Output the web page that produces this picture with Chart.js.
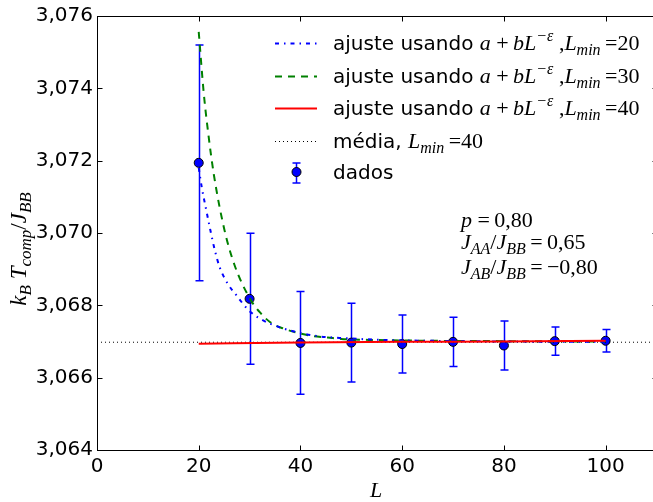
<!DOCTYPE html>
<html>
<head>
<meta charset="utf-8">
<script src="https://cdn.jsdelivr.net/npm/chart.js@4.4.0/dist/chart.umd.min.js"></script>
<style>
    html, body { margin: 0; padding: 0; background: #fff; overflow: hidden; }
    #wrap { width: 653px; height: 502px; overflow: hidden; }
    canvas { display: block; }
</style>
</head>
<body>
<div id="wrap"><canvas id="grafico" width="662" height="502"></canvas></div>
<script>
// dados (L, temperatura de compensação e barra de erro)
const tamanhos = [20, 30, 40, 50, 60, 70, 80, 90, 100];
const temperaturas = [3.07194, 3.06818, 3.06696, 3.06697, 3.06693, 3.06699, 3.06689, 3.06701, 3.06702];
const erros = [0.00326, 0.00181, 0.00142, 0.00109, 0.00080, 0.00068, 0.00068, 0.00039, 0.00031];

// curvas de ajuste a + bL^-eps
const ajuste20L = [20, 20.6, 21.5, 22.3, 23.1, 24.1, 25.7, 27.4, 29.7, 32.3, 36.2, 40.5, 43.8, 47.7, 55, 65, 80, 100];
const ajuste20T = [3.07180, 3.07126, 3.07062, 3.07007, 3.06956, 3.06906, 3.06860, 3.06828, 3.06788, 3.06761, 3.06738, 3.06722, 3.06714, 3.06710, 3.06705, 3.06702, 3.06700, 3.06699];
const ajuste30L = [20, 21, 22, 23, 25, 27, 30, 32, 34, 36.6, 39.2, 42, 45.4, 48, 55, 65, 80, 100];
const ajuste30T = [3.07556, 3.07385, 3.07261, 3.07159, 3.07012, 3.06913, 3.06820, 3.06781, 3.06754, 3.06736, 3.06725, 3.06716, 3.06711, 3.06707, 3.06704, 3.06702, 3.06701, 3.06700];
const ajuste40L = [20, 40, 60, 80, 100];
const ajuste40T = [3.06694, 3.06697, 3.06699, 3.06700, 3.06702];
const mediaL = [0, 110];
const mediaT = [3.06698, 3.06698];

const ticksX = [0, 20, 40, 60, 80, 100];
const ticksY = [3.064, 3.066, 3.068, 3.070, 3.072, 3.074, 3.076];

const SANS = '"DejaVu Sans"';
const TXT = '20px ' + SANS;
const MI = 'italic 22px "Liberation Serif"';
const MR = '22px "Liberation Serif"';
const MS = 'italic 16px "Liberation Serif"';
const FINO = '\u2009';

function pares(xs, ys) {
    return xs.map((x, i) => ({ x: x, y: ys[i] }));
}

// texto com fontes misturadas: [texto, fonte, deslocamento]
function larguraTexto(ctx, partes) {
    let w = 0;
    partes.forEach(p => { ctx.font = p[1]; w += ctx.measureText(p[0]).width; });
    return w;
}

function desenhaTexto(ctx, x, y, partes) {
    partes.forEach(p => {
        ctx.font = p[1];
        ctx.fillText(p[0], x, y + (p[2] || 0));
        x += ctx.measureText(p[0]).width;
    });
    return x;
}

function formula(lmin) {
    return [
        ['ajuste usando ', TXT],
        ['a ', MI], ['+' + FINO, MR], ['bL', MI], ['\u2212\u03b5', MS, -9],
        [' ,', MR], ['L', MI], ['min', MS, 5], [FINO + '=', MR], [lmin, MR]
    ];
}

const barrasErro = {
    id: 'barrasErro',
    beforeDatasetsDraw(chart) {
        const { ctx, scales: { x, y } } = chart;
        ctx.save();
        ctx.strokeStyle = '#0000ff';
        ctx.lineWidth = 1.5;
        tamanhos.forEach((L, i) => {
            const px = Math.round(x.getPixelForValue(L)) + 0.5;
            const topo = y.getPixelForValue(temperaturas[i] + erros[i]);
            const base = y.getPixelForValue(temperaturas[i] - erros[i]);
            ctx.beginPath();
            ctx.moveTo(px, topo); ctx.lineTo(px, base);
            ctx.moveTo(px - 4, topo); ctx.lineTo(px + 4, topo);
            ctx.moveTo(px - 4, base); ctx.lineTo(px + 4, base);
            ctx.stroke();
        });
        ctx.restore();
    }
};

const moldura = {
    id: 'moldura',
    afterDraw(chart) {
        const { ctx, chartArea: a, scales: { x, y } } = chart;
        const esq = Math.round(a.left) + 0.5, dir = Math.round(a.right) + 0.5;
        const cima = Math.round(a.top) + 0.5, baixo = Math.round(a.bottom) + 0.5;
        ctx.save();
        ctx.strokeStyle = '#000';
        ctx.lineWidth = 1;
        ctx.strokeRect(esq, cima, dir - esq, baixo - cima);
        ctx.beginPath();
        ticksX.forEach(v => {
            const px = Math.round(x.getPixelForValue(v)) + 0.5;
            ctx.moveTo(px, baixo); ctx.lineTo(px, baixo - 5);
            ctx.moveTo(px, cima); ctx.lineTo(px, cima + 5);
        });
        ticksY.forEach(v => {
            const py = Math.round(y.getPixelForValue(v)) + 0.5;
            ctx.moveTo(esq, py); ctx.lineTo(esq + 5, py);
            ctx.moveTo(dir, py); ctx.lineTo(dir - 5, py);
        });
        ctx.stroke();

        ctx.fillStyle = '#000';
        ctx.textBaseline = 'alphabetic';

        // legenda
        const linhas = [
            { cor: '#0000ff', traco: [4, 5, 1.5, 5], lw: 2, y: 43, partes: formula('20') },
            { cor: '#008000', traco: [7, 6], lw: 2, y: 76, partes: formula('30') },
            { cor: '#ff0000', traco: [], lw: 2, y: 108, partes: formula('40') },
            { cor: '#000000', traco: [1, 3], lw: 1, y: 141, partes: [['média, ', TXT], ['L', MI], ['min', MS, 5], [FINO + '=', MR], ['40', MR]] }
        ];
        linhas.forEach(l => {
            ctx.save();
            ctx.strokeStyle = l.cor;
            ctx.lineWidth = l.lw;
            ctx.setLineDash(l.traco);
            ctx.beginPath();
            ctx.moveTo(275, l.y + 0.5); ctx.lineTo(317, l.y + 0.5);
            ctx.stroke();
            ctx.restore();
            desenhaTexto(ctx, 333, l.y + 7, l.partes);
        });
        // marcador dos dados
        ctx.strokeStyle = '#0000ff';
        ctx.lineWidth = 1.5;
        ctx.beginPath();
        ctx.moveTo(296.5, 163); ctx.lineTo(296.5, 183);
        ctx.moveTo(292.5, 163); ctx.lineTo(300.5, 163);
        ctx.moveTo(292.5, 183); ctx.lineTo(300.5, 183);
        ctx.stroke();
        ctx.beginPath();
        ctx.arc(296.5, 172, 4.5, 0, Math.PI * 2);
        ctx.fillStyle = '#0000ff';
        ctx.fill();
        ctx.strokeStyle = '#000';
        ctx.lineWidth = 1;
        ctx.stroke();
        ctx.fillStyle = '#000';
        desenhaTexto(ctx, 333, 179, [['dados', TXT]]);

        // parâmetros
        desenhaTexto(ctx, 461, 227, [['p ', MI], ['=' + FINO + '0,80', MR]]);
        desenhaTexto(ctx, 461, 249, [['J', MI], ['AA', MS, 5], ['/', MR], ['J', MI], ['BB', MS, 5], [FINO + '=' + FINO + '0,65', MR]]);
        desenhaTexto(ctx, 461, 274, [['J', MI], ['AB', MS, 5], ['/', MR], ['J', MI], ['BB', MS, 5], [FINO + '=' + FINO + '\u22120,80', MR]]);

        // títulos dos eixos
        ctx.textAlign = 'left';
        const tituloX = [['L', MI]];
        desenhaTexto(ctx, 376 - larguraTexto(ctx, tituloX) / 2, 497, tituloX);

        const TI = 'italic 23px "Liberation Serif"';
        const TS = 'italic 17px "Liberation Serif"';
        const tituloY = [['k', TI], ['B', TS, 5], [' T', TI], ['comp', TS, 5], ['/', '23px "Liberation Serif"'], ['J', TI], ['BB', TS, 5]];
        ctx.translate(26, 249);
        ctx.rotate(-Math.PI / 2);
        desenhaTexto(ctx, -larguraTexto(ctx, tituloY) / 2, 0, tituloY);
        ctx.restore();
    }
};

const ctx = document.getElementById('grafico').getContext('2d');
new Chart(ctx, {
    type: 'scatter',
    data: {
        datasets: [
            {
                label: 'ajuste Lmin=20',
                data: pares(ajuste20L, ajuste20T),
                showLine: true,
                borderColor: '#0000ff',
                borderWidth: 2,
                borderDash: [4, 5, 1.5, 5],
                pointRadius: 0,
                cubicInterpolationMode: 'monotone',
                order: 2
            },
            {
                label: 'ajuste Lmin=30',
                data: pares(ajuste30L, ajuste30T),
                showLine: true,
                borderColor: '#008000',
                borderWidth: 2,
                borderDash: [7, 6],
                pointRadius: 0,
                cubicInterpolationMode: 'monotone',
                order: 2
            },
            {
                label: 'ajuste Lmin=40',
                data: pares(ajuste40L, ajuste40T),
                showLine: true,
                borderColor: '#ff0000',
                borderWidth: 2,
                pointRadius: 0,
                cubicInterpolationMode: 'monotone',
                order: 1
            },
            {
                label: 'média',
                data: pares(mediaL, mediaT),
                showLine: true,
                borderColor: '#000000',
                borderWidth: 1,
                borderDash: [1, 3],
                pointRadius: 0,
                order: 3
            },
            {
                label: 'dados',
                data: pares(tamanhos, temperaturas),
                showLine: false,
                pointRadius: 4.5,
                pointBackgroundColor: '#0000ff',
                pointBorderColor: '#000000',
                pointBorderWidth: 1,
                order: 5
            }
        ]
    },
    options: {
        responsive: false,
        animation: false,
        layout: { padding: { top: 15, right: 5, left: 0, bottom: 0 } },
        plugins: {
            legend: { display: false },
            tooltip: { enabled: false }
        },
        scales: {
            x: {
                type: 'linear',
                min: 0,
                max: 110,
                grid: { display: false, drawTicks: false },
                border: { display: false },
                afterBuildTicks: s => { s.ticks = ticksX.map(v => ({ value: v })); },
                afterFit: s => { s.height = 52; },
                ticks: { font: { family: 'DejaVu Sans', size: 20 }, color: '#000', padding: 5, maxRotation: 0, autoSkip: false }
            },
            y: {
                type: 'linear',
                min: 3.064,
                max: 3.076,
                grid: { display: false, drawTicks: false },
                border: { display: false },
                afterBuildTicks: s => { s.ticks = ticksY.map(v => ({ value: v })); },
                afterFit: s => { s.width = 97; },
                ticks: {
                    font: { family: 'DejaVu Sans', size: 20 },
                    color: '#000',
                    padding: 4,
                    autoSkip: false,
                    callback: v => v.toFixed(3).replace('.', ',')
                }
            }
        }
    },
    plugins: [barrasErro, moldura]
});
</script>
</body>
</html>
